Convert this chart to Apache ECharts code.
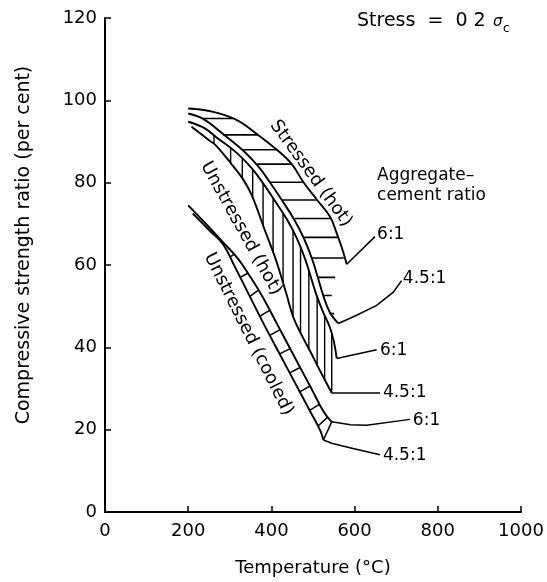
<!DOCTYPE html>
<html>
<head>
<meta charset="utf-8">
<script src="https://cdn.jsdelivr.net/npm/echarts@6/dist/echarts.min.js"></script>
<style>
html, body { margin: 0; background: #fff; }
#main { width: 547px; height: 582px; }
</style>
</head>
<body>
<div id="main"></div>
<script>
// temperature (°C), compressive strength ratio (%)
const stressed61 = [[200, 98], [260, 97.2], [317, 95.2], [368, 91.6], [413, 88], [449, 84.5], [477, 80.1], [510, 75.8], [541, 71.7], [556, 68], [569, 64.3], [581, 60.2]]
const stressed451 = [[200, 96.8], [236, 95.5], [284, 91.8], [332, 87.8], [368, 84], [395, 80.3], [425, 75.8], [455, 71], [478, 66.5], [497, 61.7], [511, 57.2], [524, 52.8], [540, 48.6], [561, 45.8]]
const hot61 = [[200, 94.8], [240, 93.2], [268, 91], [316, 87.3], [352, 83.6], [379, 80], [409, 75.5], [439, 70.8], [462, 66.3], [481, 61.5], [495, 57], [508, 52.8], [524, 48.6], [540, 45], [550, 41.5], [557, 37.3]]
const hot451 = [[208, 93.6], [250, 90.3], [268, 88.9], [305, 84.4], [332, 80.8], [353, 76.9], [384, 68.5], [410, 61.5], [436, 53], [452, 47.5], [470, 43.5], [496, 38.5], [516, 34.5], [545, 28.9]]
const cooled61 = [[200, 74.5], [240, 70.3], [284, 65.5], [320, 61.5], [350, 57], [377, 52.6], [416, 45.2], [456, 37.6], [496, 30], [526, 24.3], [545, 21.9]]
const cooled451 = [[211, 72.5], [250, 68.5], [284, 65], [310, 60], [345, 53], [384, 45.2], [424, 37.6], [464, 30], [494, 24.3], [517, 19.9], [525, 17.5]]

// hatching
// stressed band: [ratio, tempLeft, tempRight]
const hatchStressed = [[95.6, 236, 308], [91.6, 284, 368], [88.0, 332, 413], [84.5, 366, 449], [80.1, 395, 477], [75.8, 425, 510], [71.3, 456, 542], [66.7, 477, 560], [61.7, 497, 574], [57.0, 511, 553], [52.6, 524, 545], [48.2, 540, 551]]
// unstressed hot band: [temp, ratioBottom, ratioTop]
const hatchHot = [[262, 89.4, 91.5], [302, 84.8, 88.4], [330, 81.1, 85.9], [355, 76.4, 83.2], [380, 69.6, 79.9], [404, 63.1, 76.3], [428, 55.6, 72.5], [452, 47.5, 68.3], [470, 43.5, 64.3], [490, 39.7, 58.6], [510, 35.7, 52.3], [528, 32.2, 47.7], [545, 28.9, 43.3]]
// cooled band rungs: [temp1, ratio1, temp2, ratio2]
const hatchCooled = [[300, 61.9, 310, 62.6], [325, 57, 343, 58], [348, 52.4, 369, 53.9], [372, 47.6, 396, 49], [396, 42.9, 421, 44.3], [420, 38.4, 445, 39.7], [444, 33.8, 469, 35.1], [468, 29.2, 493, 30.6], [492, 24.7, 516, 26.2], [512, 20.9, 536, 23.1], [525, 17.5, 545, 21.9]]

// leader lines to the aggregate-cement ratio labels
const leaders = [
  [[581, 60.2], [649, 66.9]],
  [[561, 45.8], [605, 47.8], [653, 50.2], [693, 53.4], [713, 56.2]],
  [[557, 37.3], [653, 39.4]],
  [[545, 28.9], [661, 28.9]],
  [[545, 21.9], [590, 21.2], [629, 21.1], [733, 22.5]],
  [[525, 17.5], [545, 16.7], [601, 15.3], [661, 13.9]]
]
const ratioLabels = [['6:1', 654, 67.3], ['4.5:1', 716, 56.7], ['6:1', 661, 39.2], ['4.5:1', 668, 28.9], ['6:1', 740, 22.1], ['4.5:1', 668, 13.6]]
const curveLabels = [['Stressed (hot)', 495, 82.2, -54], ['Unstressed (hot)', 327, 68.9, -61], ['Unstressed (cooled)', 345, 43.2, -63.5]]

const xTicks = [0, 200, 400, 600, 800, 1000]
const yTicks = [0, 20, 40, 60, 80, 100, 120]

const FONT = 'DejaVu Sans'
const chart = echarts.init(document.getElementById('main'))

const curveSeries = [stressed61, stressed451, hot61, hot451, cooled61, cooled451].map(d => ({
  type: 'line',
  data: d,
  smooth: 0.4,
  symbol: 'none',
  silent: true,
  lineStyle: { color: '#000', width: 1.9 }
}))

function linesSeries(data, width) {
  return {
    type: 'lines',
    coordinateSystem: 'cartesian2d',
    polyline: true,
    silent: true,
    data: data.map(c => ({ coords: c })),
    lineStyle: { color: '#000', width: width, opacity: 1, curveness: 0 }
  }
}

chart.setOption({
  animation: false,
  backgroundColor: '#fff',
  grid: { left: 105, right: 26, top: 18, bottom: 62 },
  xAxis: {
    type: 'value',
    min: xTicks[0],
    max: xTicks[xTicks.length - 1],
    interval: 200,
    name: 'Temperature (°C)',
    nameLocation: 'middle',
    nameGap: 47,
    nameTextStyle: { color: '#000', fontFamily: FONT, fontSize: 18 },
    axisLine: { lineStyle: { color: '#000', width: 2 } },
    axisTick: { inside: true, length: 6, lineStyle: { color: '#000', width: 1.5 } },
    axisLabel: { color: '#000', fontFamily: FONT, fontSize: 18, margin: 10, formatter: v => String(v) },
    splitLine: { show: false }
  },
  yAxis: {
    type: 'value',
    min: yTicks[0],
    max: yTicks[yTicks.length - 1],
    interval: 20,
    axisLine: { show: true, lineStyle: { color: '#000', width: 2 } },
    axisTick: { show: true, inside: true, length: 6, lineStyle: { color: '#000', width: 1.5 } },
    axisLabel: { color: '#000', fontFamily: FONT, fontSize: 18, margin: 8 },
    splitLine: { show: false }
  },
  series: curveSeries.concat([
    linesSeries(hatchStressed.map(h => [[h[1], h[0]], [h[2], h[0]]]), 1.6),
    linesSeries(hatchHot.map(h => [[h[0], h[1]], [h[0], h[2]]]), 1.4),
    linesSeries(hatchCooled.map(h => [[h[0], h[1]], [h[2], h[3]]]), 1.5),
    linesSeries(leaders, 1.5)
  ])
})

// texts placed at data positions
const graphics = []
curveLabels.forEach(l => {
  const p = chart.convertToPixel({ gridIndex: 0 }, [l[1], l[2]])
  graphics.push({
    type: 'text', x: p[0], y: p[1], rotation: l[3] * Math.PI / 180, silent: true,
    style: { text: l[0], font: '18px "' + FONT + '"', fill: '#000', align: 'center', verticalAlign: 'middle' }
  })
})
ratioLabels.forEach(l => {
  const p = chart.convertToPixel({ gridIndex: 0 }, [l[1], l[2]])
  graphics.push({
    type: 'text', x: p[0], y: p[1], silent: true,
    style: { text: l[0], font: '17px "' + FONT + '"', fill: '#000', align: 'left', verticalAlign: 'middle' }
  })
})
const agg = chart.convertToPixel({ gridIndex: 0 }, [654, 79.4])
graphics.push({
  type: 'text', x: agg[0], y: agg[1], silent: true,
  style: { text: 'Aggregate–\ncement ratio', font: '17px "' + FONT + '"', lineHeight: 20, fill: '#000', align: 'left', verticalAlign: 'middle' }
})
// y axis title
graphics.push({
  type: 'text', x: 24, y: 245, rotation: Math.PI / 2, silent: true,
  style: { text: 'Compressive strength ratio (per cent)', font: '19px "' + FONT + '"', fill: '#000', align: 'center', verticalAlign: 'middle' }
})
// stress note
graphics.push({
  type: 'text', x: 357, y: 21, silent: true,
  style: { text: 'Stress  =  0 2', font: '19px "' + FONT + '"', fill: '#000', align: 'left', verticalAlign: 'middle' }
})
graphics.push({
  type: 'text', x: 493, y: 22, silent: true,
  style: { text: 'σ', font: 'italic 15px "' + FONT + '"', fill: '#000', align: 'left', verticalAlign: 'middle' }
})
graphics.push({
  type: 'text', x: 503, y: 29, silent: true,
  style: { text: 'c', font: '12px "' + FONT + '"', fill: '#000', align: 'left', verticalAlign: 'middle' }
})
chart.setOption({ graphic: graphics })
</script>
</body>
</html>
